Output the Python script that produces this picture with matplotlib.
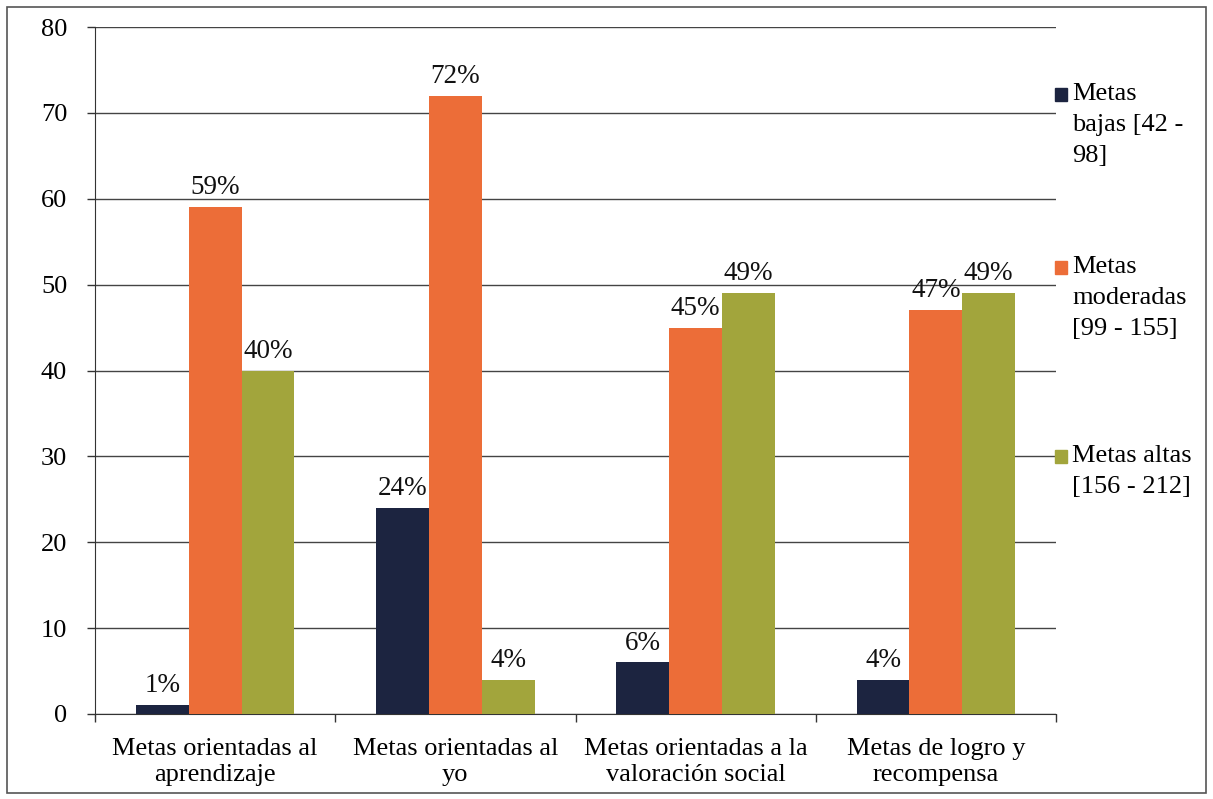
import matplotlib
matplotlib.use("Agg")
import matplotlib.pyplot as plt
import numpy as np
from matplotlib.patches import Rectangle

categories = ["Metas orientadas al\naprendizaje", "Metas orientadas al\nyo",
              "Metas orientadas a la\nvaloración social", "Metas de logro y\nrecompensa"]
series_names = ["Metas\nbajas [42 -\n98]", "Metas\nmoderadas\n[99 - 155]", "Metas altas\n[156 - 212]"]
bajas = [1, 24, 6, 4]
moderadas = [59, 72, 45, 47]
altas = [40, 4, 49, 49]
yticks = [0, 10, 20, 30, 40, 50, 60, 70, 80]

colors = ["#1c2440", "#ec6d38", "#a2a53c"]

plt.rcParams['font.family'] = ['Liberation Serif', 'DejaVu Serif']

W, H = 1213, 799
fig = plt.figure(figsize=(W / 100, H / 100), dpi=100)
ax = fig.add_axes([95 / W, 1 - 714 / H, (1056 - 95) / W, (714 - 27) / H])

x = np.arange(len(categories))
bw = 0.22
data = [bajas, moderadas, altas]
for i, (vals, c) in enumerate(zip(data, colors)):
    bars = ax.bar(x + (i - 1) * bw, vals, width=bw, color=c, zorder=3)
    for b, v in zip(bars, vals):
        ax.annotate(f"{v}%", (b.get_x() + b.get_width() / 2, v), xytext=(0, 5),
                    textcoords="offset points", ha="center", va="bottom",
                    fontsize=19.5, color="#111111")

ax.set_xlim(-0.5, len(categories) - 0.5)
ax.set_ylim(0, 80)
ax.set_yticks(yticks)
ax.tick_params(axis='y', labelsize=19, length=6, width=1, color="#333333", pad=14)
ax.yaxis.grid(True, color="#444444", linewidth=1.0, zorder=0)
ax.set_axisbelow(True)

ax.set_xticks(x)
ax.set_xticklabels(categories, fontsize=19, linespacing=1.25)
ax.tick_params(axis='x', length=0, pad=17)
ax.set_xticks(np.arange(len(categories) + 1) - 0.5, minor=True)
ax.tick_params(axis='x', which='minor', length=6, width=1, color="#333333")

for s in ["top", "right"]:
    ax.spines[s].set_visible(False)
ax.spines["left"].set_color("#333333")
ax.spines["bottom"].set_color("#333333")

# legend
legend_specs = [(100, 0), (273, 1), (462, 2)]
for ybase, k in legend_specs:
    fig.add_artist(Rectangle((1055 / W, 1 - (ybase + 1) / H), 12 / W, 13 / H,
                             transform=fig.transFigure, color=colors[k]))
    lines = series_names[k].split("\n")
    for j, line in enumerate(lines):
        fig.text(1072 / W, 1 - (ybase + 31 * j) / H, line, fontsize=19,
                 va="baseline", ha="left")

# figure frame
fig.add_artist(Rectangle((7 / W, 6 / H), (1206 - 7) / W, (793 - 7) / H,
                         transform=fig.transFigure, fill=False,
                         edgecolor="#555555", linewidth=1.2))

fig.savefig("out.png", dpi=100)
